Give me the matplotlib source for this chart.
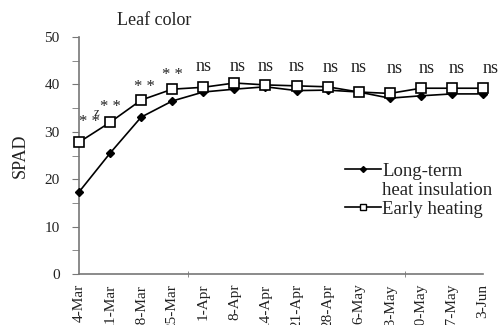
import matplotlib
matplotlib.use("Agg")
import matplotlib.pyplot as plt
from matplotlib.lines import Line2D

dates = ["4-Mar", "11-Mar", "18-Mar", "25-Mar", "1-Apr", "8-Apr", "14-Apr",
         "21-Apr", "28-Apr", "6-May", "13-May", "20-May", "27-May", "3-Jun"]
long_term = [17.3, 25.5, 33.1, 36.5, 38.4, 39.0, 39.5,
             38.7, 38.8, 38.4, 37.1, 37.6, 38.0, 38.0]
early = [27.8, 32.0, 36.7, 39.0, 39.4, 40.3, 39.9,
         39.7, 39.5, 38.4, 38.1, 39.2, 39.2, 39.2]
sig = ["**", "**", "**", "**", "ns", "ns", "ns",
       "ns", "ns", "ns", "ns", "ns", "ns", "ns"]
sig_y = [32.9, 36.0, 40.3, 42.8, 43.7, 43.7, 43.7,
         43.7, 43.5, 43.5, 43.3, 43.3, 43.3, 43.3]
# small sideways shifts of the significance labels, as in the figure
sig_dx = [0.35, 0, 0.1, 0, 0, 0.1, 0, 0, 0.1, 0, 0.15, 0.2, 0.15, 0.25]

plt.rcParams["font.family"] = ["Liberation Serif", "DejaVu Serif"]

fig = plt.figure(figsize=(5, 3.25), dpi=100)
ax = fig.add_axes([0.158, 0.157, 0.808, 0.729])

x = list(range(len(dates)))
ax.plot(x, long_term, color="black", lw=1.2, marker="D", ms=4.5,
        mfc="black", mec="black", clip_on=False, zorder=3)
ax.plot(x, early, color="black", lw=1.2, marker="s", ms=6.5,
        mfc="white", mec="black", mew=1.2, clip_on=False, zorder=4)

for i, (s, yy, dx) in enumerate(zip(sig, sig_y, sig_dx)):
    if s == "**":
        ax.text(i + dx, yy - 0.8, "* *", ha="center", va="center",
                fontsize=12, color="#222222")
    else:
        ax.text(i + dx, yy, s, ha="center", va="center", fontsize=13,
                color="#222222")
ax.text(0.55, 34.0, "z", ha="center", va="center", fontsize=9,
        color="#222222")

ax.set_xlim(0, 13)
ax.set_ylim(0, 50)
ax.set_yticks(range(0, 51, 10))
ax.set_yticks(range(5, 50, 10), minor=True)
ax.set_xticks(x)
ax.set_xticklabels(dates, rotation=90, fontsize=11, color="#222222")
ax.set_xticks([0, 3.5, 7, 10.5], minor=True)
ax.tick_params(axis="x", which="major", length=0, pad=7)
ax.tick_params(axis="x", which="minor", length=5, direction="inout",
               color="#777777")
ax.tick_params(axis="y", which="both", length=5, color="#777777",
               labelsize=11, labelcolor="#222222", pad=9)

for side in ["top", "right"]:
    ax.spines[side].set_visible(False)
for side in ["left", "bottom"]:
    ax.spines[side].set_color("#777777")
    ax.spines[side].set_linewidth(1.2)

ax.set_ylabel("SPAD", fontsize=13, color="#222222", labelpad=11)
fig.text(0.308, 0.938, "Leaf color", ha="center", va="center",
         fontsize=13, color="#222222")

h1 = Line2D([], [], color="black", lw=1.2, marker="D", ms=3, mfc="black")
h_blank = Line2D([], [], color="none")
h2 = Line2D([], [], color="black", lw=1.2, marker="s", ms=4.5, mfc="white")
ax.legend([h1, h_blank, h2], ["Long-term", "heat insulation", "Early heating"],
          loc="upper left", bbox_to_anchor=(0.635, 0.51), frameon=False,
          fontsize=13.5, handlelength=1.9, handletextpad=0.1,
          labelspacing=0.1, borderpad=0.0, labelcolor="#222222")

fig.savefig("out.png", dpi=100)
